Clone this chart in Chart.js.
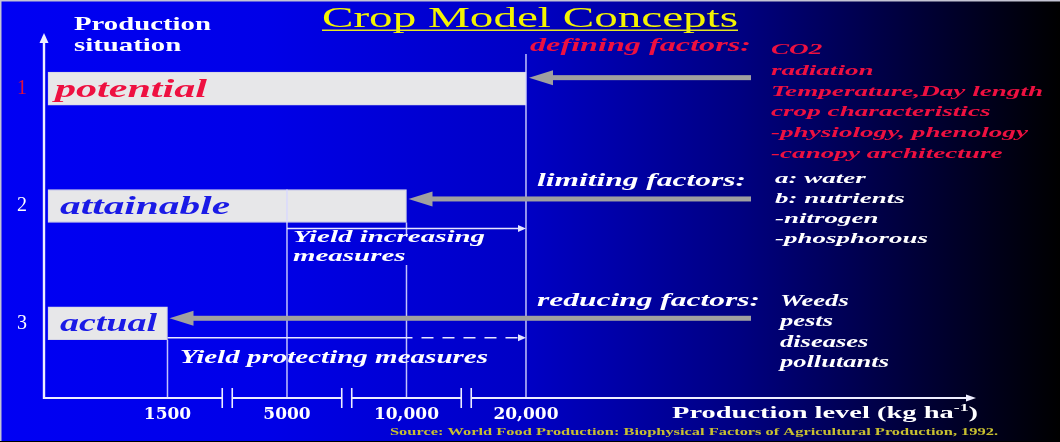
<!DOCTYPE html>
<html>
<head>
<meta charset="utf-8">
<script src="https://cdn.jsdelivr.net/npm/chart.js@4"></script>
<style>
html,body{margin:0;padding:0;background:#000;}
#wrap{width:1060px;height:442px;}
</style>
</head>
<body>
<div id="wrap"><canvas id="c" width="1060" height="442"></canvas></div>
<script>
// ---- data ----
const situations = ['potential', 'attainable', 'actual'];
const situationNumbers = [1, 2, 3];
const situationYield = [20000, 10000, 1500];            // kg/ha reached by each situation
const levelValues = [1500, 5000, 10000, 20000];         // production levels on the (broken) axis
const levelLabels = ['1500', '5000', '10,000', '20,000'];
const definingFactors = ['CO2', 'radiation', 'Temperature,Day length', 'crop characteristics', '-physiology, phenology', '-canopy architecture'];
const limitingFactors = ['a: water', 'b: nutrients', '-nitrogen', '-phosphorous'];
const reducingFactors = ['Weeds', 'pests', 'diseases', 'pollutants'];
const titleText = 'Crop Model Concepts';
const sourceText = 'Source: World Food Production: Biophysical Factors of Agricultural Production, 1992.';

// broken axis: each production level occupies one equal step
const barData = situationNumbers.map((n, i) => ({ y: n, x: levelValues.indexOf(situationYield[i]) + 1 }));

const SERIF = '"Liberation Serif", "Times New Roman", serif';

function stretchText(ctx, text, x, y, font, color, sx) {
  ctx.save();
  ctx.font = font;
  ctx.fillStyle = color;
  ctx.textAlign = 'left';
  ctx.textBaseline = 'alphabetic';
  ctx.translate(x, y);
  ctx.scale(sx, 1);
  ctx.fillText(text, 0, 0);
  ctx.restore();
}
function fitSx(ctx, text, font, width) {
  ctx.save(); ctx.font = font;
  const w = ctx.measureText(text).width;
  ctx.restore();
  return width / w;
}
function whiteArrow(ctx, x0, x1, yy, dashedFrom) {
  ctx.save();
  ctx.strokeStyle = '#e6e6ff';
  ctx.fillStyle = '#e6e6ff';
  ctx.lineWidth = 1.6;
  if (dashedFrom !== undefined) {
    ctx.beginPath(); ctx.moveTo(x0, yy); ctx.lineTo(dashedFrom, yy); ctx.stroke();
    ctx.setLineDash([12, 9]);
    ctx.beginPath(); ctx.moveTo(dashedFrom + 9, yy); ctx.lineTo(x1 - 6, yy); ctx.stroke();
    ctx.setLineDash([]);
  } else {
    ctx.beginPath(); ctx.moveTo(x0, yy); ctx.lineTo(x1 - 6, yy); ctx.stroke();
  }
  ctx.beginPath(); ctx.moveTo(x1, yy); ctx.lineTo(x1 - 8, yy - 3.5); ctx.lineTo(x1 - 8, yy + 3.5); ctx.closePath(); ctx.fill();
  ctx.restore();
}
function grayArrow(ctx, xTail, xTip, yy) {
  ctx.save();
  ctx.fillStyle = '#a0a0a0';
  ctx.fillRect(xTip + 20, yy - 2.5, xTail - xTip - 20, 5);
  ctx.beginPath(); ctx.moveTo(xTip, yy); ctx.lineTo(xTip + 24, yy - 7.5); ctx.lineTo(xTip + 24, yy + 7.5); ctx.closePath(); ctx.fill();
  ctx.restore();
}
function vline(ctx, xx, y0, y1) {
  ctx.save();
  ctx.strokeStyle = 'rgba(215,215,255,0.9)';
  ctx.lineWidth = 1.5;
  ctx.beginPath(); ctx.moveTo(xx, y0); ctx.lineTo(xx, y1); ctx.stroke();
  ctx.restore();
}

const bgPlugin = {
  id: 'bg',
  beforeDraw(chart) {
    const { ctx, width, height } = chart;
    const g = ctx.createLinearGradient(0, 0, width, 0);
    g.addColorStop(0, '#0000f4');
    g.addColorStop(0.25, '#0000e8');
    g.addColorStop(0.5, '#0000c4');
    g.addColorStop(0.7, '#000080');
    g.addColorStop(0.86, '#00003a');
    g.addColorStop(1, '#000000');
    ctx.save();
    ctx.fillStyle = g;
    ctx.fillRect(0, 0, width, height);
    ctx.fillStyle = '#c4c4d4';
    ctx.fillRect(0, 0, width, 1.5);
    ctx.fillRect(0, 0, 1.5, height);
    ctx.fillStyle = '#000';
    ctx.fillRect(0, height - 1, width, 1);
    ctx.restore();
  }
};

const diagramPlugin = {
  id: 'diagram',
  afterDatasetsDraw(chart) {
    const { ctx, scales: { x, y } } = chart;
    const px = v => x.getPixelForValue(v);
    const bars = chart.getDatasetMeta(0).data.map(b => b.getProps(['x', 'y', 'base', 'height'], true));
    const axisX = x.left - 1;
    const axisY = y.bottom;
    const tickPx = levelValues.map((v, i) => px(i + 1));

    // vertical level lines
    const [pot, att, act] = bars;
    vline(ctx, tickPx[3], 54, axisY);
    vline(ctx, tickPx[2], att.y + att.height / 2, att.y + att.height / 2 + 12);
    vline(ctx, tickPx[2], 265, axisY);
    vline(ctx, tickPx[1], att.y - att.height / 2, axisY);
    vline(ctx, tickPx[0], act.y + act.height / 2, axisY);

    // axes
    ctx.save();
    ctx.strokeStyle = '#eeeeff';
    ctx.fillStyle = '#eeeeff';
    ctx.lineWidth = 2.4;
    ctx.beginPath(); ctx.moveTo(axisX, axisY + 1); ctx.lineTo(axisX, 42); ctx.stroke();
    ctx.beginPath(); ctx.moveTo(axisX, 33); ctx.lineTo(axisX - 4.5, 43); ctx.lineTo(axisX + 4.5, 43); ctx.closePath(); ctx.fill();
    const breaks = [0, 1, 2].map(i => (tickPx[i] + tickPx[i + 1]) / 2);
    const xEnd = 968;
    let start = axisX;
    ctx.lineWidth = 2;
    breaks.forEach(b => {
      ctx.beginPath(); ctx.moveTo(start, axisY); ctx.lineTo(b - 5, axisY); ctx.stroke();
      ctx.lineWidth = 1.6;
      ctx.beginPath(); ctx.moveTo(b - 5, axisY - 10); ctx.lineTo(b - 5, axisY + 10); ctx.stroke();
      ctx.beginPath(); ctx.moveTo(b + 5, axisY - 10); ctx.lineTo(b + 5, axisY + 10); ctx.stroke();
      ctx.lineWidth = 2;
      start = b + 5;
    });
    ctx.beginPath(); ctx.moveTo(start, axisY); ctx.lineTo(xEnd, axisY); ctx.stroke();
    ctx.beginPath(); ctx.moveTo(976, axisY); ctx.lineTo(966, axisY - 3.5); ctx.lineTo(966, axisY + 3.5); ctx.closePath(); ctx.fill();
    ctx.restore();

    // measure arrows
    whiteArrow(ctx, tickPx[1], tickPx[3], att.y + att.height / 2 + 6);
    whiteArrow(ctx, act.x, tickPx[3], act.y + act.height / 2 - 2, tickPx[2] + 6);

    // factor arrows
    const tail = 751;
    grayArrow(ctx, tail, pot.x + 3, pot.y - 11);
    grayArrow(ctx, tail, att.x + 2, att.y - 7);
    grayArrow(ctx, tail, act.x + 2, act.y - 5);

    // labels inside bars
    const barFont = 'italic bold 25px ' + SERIF;
    const barColors = ['#ee1040', '#1a1ae6', '#1a1ae6'];
    const barWidths = [152, 170, 97];
    bars.forEach((b, i) => {
      const sx = fitSx(ctx, situations[i], barFont, barWidths[i]);
      stretchText(ctx, situations[i], b.base + (i === 0 ? 7 : 12), b.y + 8, barFont, barColors[i], sx);
    });

    // title
    const tFont = '29px ' + SERIF;
    const tsx = fitSx(ctx, titleText, tFont, 416);
    stretchText(ctx, titleText, 322, 27, tFont, '#f4f400', tsx);
    ctx.save(); ctx.fillStyle = '#e8e820'; ctx.fillRect(322, 29.5, 416, 1.5); ctx.restore();

    // y axis title
    const pFont = 'bold 19px ' + SERIF;
    const psx = fitSx(ctx, 'Production', pFont, 137);
    stretchText(ctx, 'Production', 74, 30, pFont, '#ffffff', psx);
    stretchText(ctx, 'situation', 74, 51, pFont, '#ffffff', psx);

    // factor headings
    const hFont = 'italic bold 19px ' + SERIF;
    stretchText(ctx, 'defining factors:', 530, 51, hFont, '#ee1040', fitSx(ctx, 'defining factors:', hFont, 221));
    stretchText(ctx, 'limiting factors:', 537, 186, hFont, '#ffffff', fitSx(ctx, 'limiting factors:', hFont, 209));
    stretchText(ctx, 'reducing factors:', 537, 306, hFont, '#ffffff', fitSx(ctx, 'reducing factors:', hFont, 223));

    // factor lists
    const fFont = 'italic bold 15px ' + SERIF;
    const dsx = fitSx(ctx, definingFactors[4], fFont, 257);
    definingFactors.forEach((t, i) => stretchText(ctx, t, 771, 54 + i * 20.8, fFont, '#ee1040', dsx));
    const lsx = fitSx(ctx, limitingFactors[3], fFont, 153);
    limitingFactors.forEach((t, i) => stretchText(ctx, t, 775, 183 + i * 20, fFont, '#ffffff', lsx));
    const rFont = 'italic bold 16px ' + SERIF;
    const rsx = fitSx(ctx, reducingFactors[3], rFont, 109);
    reducingFactors.forEach((t, i) => stretchText(ctx, t, 780, 306 + i * 20.4, rFont, '#ffffff', rsx));

    // measures text
    const mFont = 'italic bold 17px ' + SERIF;
    const msx = fitSx(ctx, 'Yield increasing', mFont, 192);
    stretchText(ctx, 'Yield increasing', 293, 242, mFont, '#ffffff', msx);
    stretchText(ctx, 'measures', 293, 261, mFont, '#ffffff', msx);
    const yFont = 'italic bold 18px ' + SERIF;
    stretchText(ctx, 'Yield protecting measures', 180, 363, yFont, '#ffffff', fitSx(ctx, 'Yield protecting measures', yFont, 308));

    // x axis title with superscript
    const xFont = 'bold 16px ' + SERIF, supFont = 'bold 10px ' + SERIF;
    const mainT = 'Production level (kg ha', supT = '-1', closeT = ')';
    ctx.save();
    ctx.font = xFont; const w1 = ctx.measureText(mainT).width, w3 = ctx.measureText(closeT).width;
    ctx.font = supFont; const w2 = ctx.measureText(supT).width;
    ctx.restore();
    const xsx = 306 / (w1 + w2 + w3);
    stretchText(ctx, mainT, 672, 418, xFont, '#ffffff', xsx);
    stretchText(ctx, supT, 672 + w1 * xsx, 411, supFont, '#ffffff', xsx);
    stretchText(ctx, closeT, 672 + (w1 + w2) * xsx, 418, xFont, '#ffffff', xsx);

    // source
    const sFont = 'bold 11px ' + SERIF;
    stretchText(ctx, sourceText, 390, 435, sFont, '#c8c030', fitSx(ctx, sourceText, sFont, 608));
  }
};

new Chart(document.getElementById('c'), {
  type: 'bar',
  data: {
    datasets: [{
      label: 'Production situation',
      data: barData,
      backgroundColor: '#e7e7e9',
      borderColor: '#d4d4e6',
      borderWidth: 1,
      borderSkipped: false,
      barThickness: 33
    }]
  },
  options: {
    indexAxis: 'y',
    responsive: false,
    devicePixelRatio: 1,
    animation: false,
    layout: { padding: { left: 0, top: 20, right: 70, bottom: 0 } },
    plugins: { legend: { display: false }, tooltip: { enabled: false } },
    scales: {
      x: {
        type: 'linear',
        min: -0.025,
        max: 7.883,
        offset: false,
        grid: { display: false, drawTicks: false, offset: false },
        border: { display: false },
        afterBuildTicks: s => { s.ticks = levelValues.map((v, i) => ({ value: i + 1 })); },
        afterFit: s => { s.height = 44; },
        ticks: {
          autoSkip: false,
          maxRotation: 0,
          padding: 6,
          color: '#ffffff',
          font: { family: '"DejaVu Serif", serif', weight: 'bold', size: 17 },
          callback: v => levelLabels[v - 1]
        }
      },
      y: {
        type: 'linear',
        reverse: true,
        min: 0.5,
        max: 3.637,
        offset: false,
        grid: { display: false, drawTicks: false, offset: false },
        border: { display: false },
        afterBuildTicks: s => { s.ticks = situationNumbers.map(n => ({ value: n })); },
        afterFit: s => { s.width = 45; },
        ticks: {
          autoSkip: false,
          padding: 18,
          color: c => (c.tick && c.tick.value === 1) ? '#e0103a' : '#ffffff',
          font: { family: SERIF, size: 20 },
          callback: v => String(v)
        }
      }
    }
  },
  plugins: [bgPlugin, diagramPlugin]
});
</script>
</body>
</html>
